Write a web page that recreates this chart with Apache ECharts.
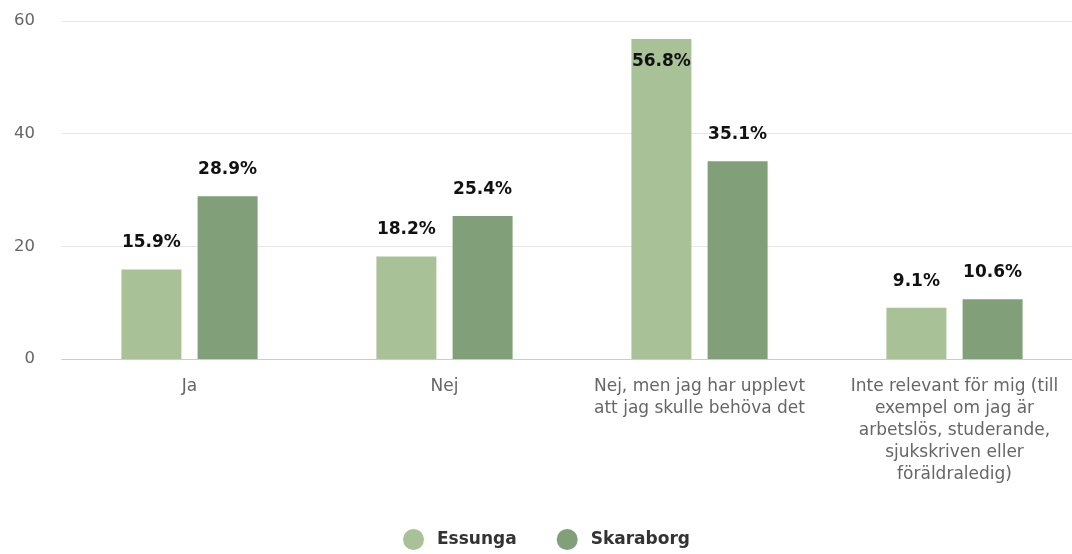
<!DOCTYPE html>
<html>
<head>
<meta charset="utf-8">
<script src="https://cdn.jsdelivr.net/npm/echarts@6/dist/echarts.min.js"></script>
<style>html,body{margin:0;padding:0;background:#fff;overflow:hidden}#c{width:1082px;height:554px}</style>
</head>
<body>
<div id="c"></div>
<script>
const categories = [
  'Ja',
  'Nej',
  'Nej, men jag har upplevt\natt jag skulle behöva det',
  'Inte relevant för mig (till\nexempel om jag är\narbetslös, studerande,\nsjukskriven eller\nföräldraledig)'
];
const essunga = [15.9, 18.2, 56.8, 9.1];
const skaraborg = [28.9, 25.4, 35.1, 10.6];
const seriesNames = ['Essunga', 'Skaraborg'];
const yTicks = [0, 20, 40, 60];

const chart = echarts.init(document.getElementById('c'), null, {renderer: 'canvas'});
function mk(vals) {
  return vals.map(v => v > 55 ? {value: v, label: {position: 'insideTop', distance: 14}} : v);
}
const lbl = {
  show: true, position: 'top', distance: 18,
  fontFamily: 'DejaVu Sans', fontSize: 17, fontWeight: 'bold', color: '#111',
  formatter: p => p.value.toFixed(1) + '%'
};
chart.setOption({
  animation: false,
  textStyle: {fontFamily: 'DejaVu Sans'},
  grid: {left: 62, top: 21, width: 1020, height: 338, containLabel: false},
  legend: {
    bottom: 4, left: 403, padding: 0, itemWidth: 21, itemHeight: 21, itemGap: 40,
    icon: 'circle',
    textStyle: {fontFamily: 'DejaVu Sans', fontSize: 17, fontWeight: 'bold', color: '#333', padding: [0, 0, 0, 8]},
    data: seriesNames
  },
  xAxis: {
    type: 'category', data: categories,
    axisTick: {show: false},
    axisLine: {lineStyle: {color: '#cccccc'}},
    axisLabel: {color: '#666', fontSize: 17, lineHeight: 22, margin: 17, interval: 0, fontFamily: 'DejaVu Sans'}
  },
  yAxis: {
    type: 'value', min: yTicks[0], max: yTicks[yTicks.length - 1], interval: 20,
    axisLabel: {color: '#666', fontSize: 16.5, margin: 27, fontFamily: 'DejaVu Sans'},
    splitLine: {lineStyle: {color: '#e6e6e6'}},
    axisLine: {show: false}, axisTick: {show: false}
  },
  series: [
    {name: seriesNames[0], type: 'bar', data: mk(essunga), barWidth: 60, barGap: '27%',
     itemStyle: {color: '#a9c196'}, label: lbl},
    {name: seriesNames[1], type: 'bar', data: mk(skaraborg), barWidth: 60, barGap: '27%',
     itemStyle: {color: '#819f78'}, label: lbl}
  ]
});
</script>
</body>
</html>
